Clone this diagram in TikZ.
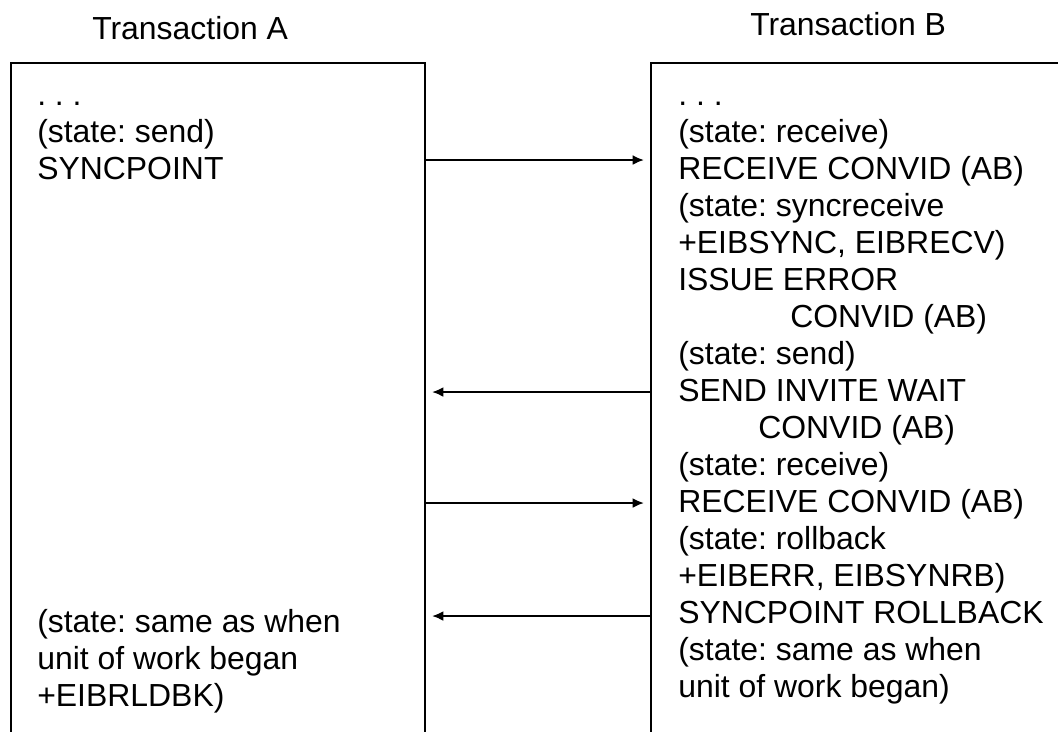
\documentclass[tikz,border=0pt]{standalone}
\usepackage{fontspec}
\setmainfont{Liberation Sans}
\usetikzlibrary{arrows.meta,fit}
\frenchspacing

\tikzset{
  txt/.style={anchor=base west, inner sep=0pt, font=\fontsize{22.7}{26}\selectfont},
  lane/.style={draw, line width=1.2pt, inner sep=0pt},
  msg/.style={-{Latex[length=8pt,width=7pt]}, line width=1.1pt, shorten >=4.5pt},
}

\begin{document}
\begin{tikzpicture}[x=0.025cm,y=-0.025cm]
\clip (0,0) rectangle (1058,731);

% headings
\node[txt] (titleA) at (92,39) {Transaction A};
\node[txt] (titleB) at (750,35) {Transaction B};

% the two transactions (open at the bottom)
\node[lane, fit={(11,63) (425,780)}] (boxA) {};
\node[lane, fit={(651,63) (1120,780)}] (boxB) {};

% transaction A
\foreach \k/\t in {0/{. . .}, 1/{(state: send)}, 2/{SYNCPOINT}}
  \node[txt] (a\k) at (37,{105+37*\k}) {\t};
\foreach \k/\t in {3/{(state: same as when}, 4/{unit of work began}, 5/{+EIBRLDBK)}}
  \node[txt] (a\k) at (37,{632+37*(\k-3)}) {\t};

% transaction B
\foreach \k/\xx/\t in {0/678/{. . .},
    1/678/{(state: receive)},
    2/678/{RECEIVE CONVID (AB)},
    3/678/{(state: syncreceive},
    4/678/{+EIBSYNC, EIBRECV)},
    5/678/{ISSUE ERROR},
    6/790/{CONVID (AB)},
    7/678/{(state: send)},
    8/678/{SEND INVITE WAIT},
    9/758/{CONVID (AB)},
    10/678/{(state: receive)},
    11/678/{RECEIVE CONVID (AB)},
    12/678/{(state: rollback},
    13/678/{+EIBERR, EIBSYNRB)},
    14/678/{SYNCPOINT ROLLBACK},
    15/678/{(state: same as when},
    16/678/{unit of work began)}}
  \node[txt] (b\k) at (\xx,{105+37*\k}) {\t};

% flows between A and B
\coordinate (m1) at (0,160);
\coordinate (m2) at (0,392);
\coordinate (m3) at (0,503);
\coordinate (m4) at (0,616);
\draw[msg] (boxA.east |- m1) -- (boxB.west |- m1);
\draw[msg] (boxB.west |- m2) -- (boxA.east |- m2);
\draw[msg] (boxA.east |- m3) -- (boxB.west |- m3);
\draw[msg] (boxB.west |- m4) -- (boxA.east |- m4);

\end{tikzpicture}
\end{document}
